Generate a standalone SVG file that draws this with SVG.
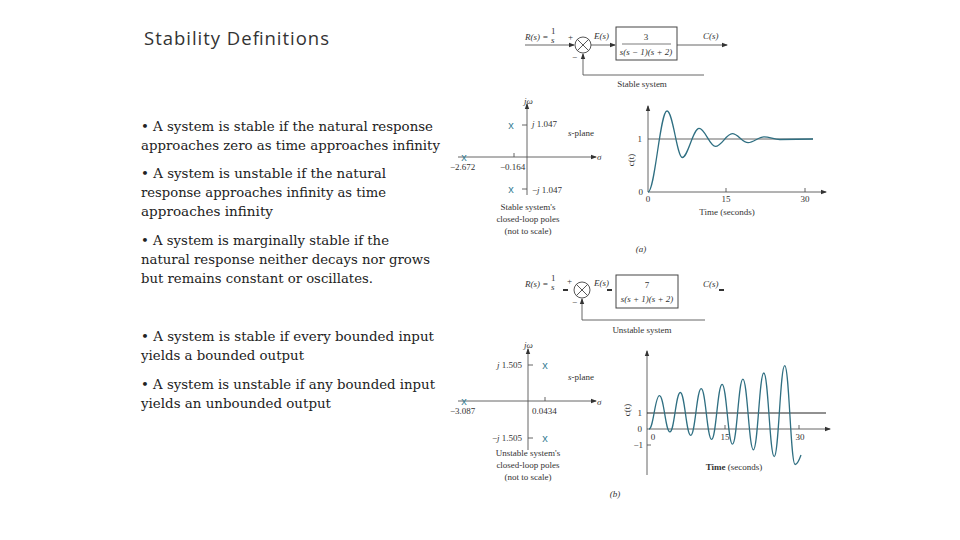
<svg xmlns="http://www.w3.org/2000/svg" width="960" height="540" viewBox="0 0 960 540">
<style>
.t{font-family:"DejaVu Serif",serif;font-size:12.8px;fill:#222}
.s{font-family:"Liberation Serif",serif;font-size:9px;fill:#333}
.i{font-style:italic}
.ax{stroke:#555;stroke-width:0.9;fill:none}
.cv{stroke:#2f6f82;stroke-width:1.3;fill:none}
.x{font-family:"Liberation Sans",sans-serif;font-size:11px;fill:#3a7f95}
</style>
<defs><marker id="ar" markerWidth="6" markerHeight="6" refX="5" refY="3" orient="auto" markerUnits="userSpaceOnUse"><path d="M0,0.8L6,3L0,5.2z" fill="#333"/></marker></defs>
<rect width="960" height="540" fill="#fff"/>
<text x="144" y="45" style="font-family:'Open Sans',sans-serif;font-size:18.5px;fill:#333" textLength="185">Stability Definitions</text>
<g id="text">
<text class="t" x="141" y="131" textLength="292" lengthAdjust="spacingAndGlyphs">• A system is stable if the natural response</text>
<text class="t" x="141" y="150" textLength="299" lengthAdjust="spacingAndGlyphs">approaches zero as time approaches infinity</text>
<text class="t" x="141" y="178" textLength="245" lengthAdjust="spacingAndGlyphs">• A system is unstable if the natural</text>
<text class="t" x="141" y="197" textLength="245" lengthAdjust="spacingAndGlyphs">response approaches infinity as time</text>
<text class="t" x="141" y="216" textLength="132" lengthAdjust="spacingAndGlyphs">approaches infinity</text>
<text class="t" x="141" y="245" textLength="248" lengthAdjust="spacingAndGlyphs">• A system is marginally stable if the</text>
<text class="t" x="141" y="264" textLength="289" lengthAdjust="spacingAndGlyphs">natural response neither decays nor grows</text>
<text class="t" x="141" y="283" textLength="232" lengthAdjust="spacingAndGlyphs">but remains constant or oscillates.</text>
<text class="t" x="141" y="341" textLength="293" lengthAdjust="spacingAndGlyphs">• A system is stable if every bounded input</text>
<text class="t" x="141" y="360" textLength="163" lengthAdjust="spacingAndGlyphs">yields a bounded output</text>
<text class="t" x="141" y="389" textLength="294" lengthAdjust="spacingAndGlyphs">• A system is unstable if any bounded input</text>
<text class="t" x="141" y="408" textLength="190" lengthAdjust="spacingAndGlyphs">yields an unbounded output</text>
</g>
<g id="connectors">
<line class="ax" x1="525" y1="45" x2="574" y2="45" marker-end="url(#ar)"/>
<line class="ax" x1="591" y1="45" x2="615" y2="45" marker-end="url(#ar)"/>
<line class="ax" x1="677" y1="45" x2="727" y2="45" marker-end="url(#ar)"/>
<polyline class="ax" points="704,75 583,75 583,54" marker-end="url(#ar)"/>
<path d="M563,290h5M607,290h5M719,290h5" stroke="#333" stroke-width="2"/>
<polyline class="ax" points="705,320 582,320 582,299" marker-end="url(#ar)"/>
</g>
<g id="blockA">
<circle cx="583" cy="45" r="8" fill="#fff" stroke="#444" stroke-width="0.9"/>
<path d="M577.3,39.3l11.4,11.4M588.7,39.3l-11.4,11.4" stroke="#444" stroke-width="0.9"/>
<rect x="616" y="27" width="61" height="33" fill="#fff" stroke="#444"/>
<line x1="622" y1="44" x2="671" y2="44" stroke="#444" stroke-width="0.7"/>
<text class="s" x="646" y="40" text-anchor="middle">3</text>
<text class="s i" x="646" y="55" text-anchor="middle">s(s − 1)(s + 2)</text>
<text class="s i" x="525" y="40">R(s) = </text><text class="s" x="551" y="34">1</text><text class="s i" x="551" y="43">s</text>
<text class="s" x="568" y="40">+</text><text class="s" x="572" y="60">−</text>
<text class="s i" x="594" y="39">E(s)</text><text class="s i" x="703" y="39">C(s)</text>
<text class="s" x="642" y="87" text-anchor="middle">Stable system</text>
</g>
<g id="splaneA">
<line class="ax" x1="527" y1="195" x2="527" y2="104" marker-end="url(#ar)"/>
<line class="ax" x1="458" y1="157" x2="596" y2="157" marker-end="url(#ar)"/>
<path d="M522,125h5M522,189h5M514,157v-4" class="ax"/>
<text class="x" x="511" y="129" text-anchor="middle">x</text><text class="x" x="511" y="193" text-anchor="middle">x</text><text class="x" x="464" y="161" text-anchor="middle">x</text>
<text class="s i" x="524" y="104">jω</text>
<text class="s" x="532" y="127"><tspan class="i">j</tspan> 1.047</text>
<text class="s" x="532" y="193">−<tspan class="i">j</tspan> 1.047</text>
<text class="s i" x="568" y="136">s<tspan font-style="normal">-plane</tspan></text>
<text class="s i" x="597" y="160">σ</text>
<text class="s" x="450" y="170">−2.672</text><text class="s" x="500" y="170">−0.164</text>
<text class="s" x="528" y="210" text-anchor="middle">Stable system's</text>
<text class="s" x="528" y="222" text-anchor="middle">closed-loop poles</text>
<text class="s" x="528" y="234" text-anchor="middle">(not to scale)</text>
</g>
<g id="plotA">
<line class="ax" x1="648" y1="192" x2="648" y2="106" marker-end="url(#ar)"/>
<line class="ax" x1="648" y1="192" x2="826" y2="192" marker-end="url(#ar)"/>
<line class="ax" x1="648" y1="139" x2="813" y2="139"/>
<path class="ax" d="M726,192v-4M805,192v-4"/>
<path class="cv" d="M648,192C655,192 660,111 667,111C673,111 677,157.5 682.3,157.5C688,157.5 693,128.4 699.1,128.4C705,128.4 709.6,146.4 715.5,146.4C721.5,146.4 726.3,133.7 732.3,133.7C738,133.7 742.4,142.7 748.1,142.7C753.8,142.7 758.3,136.9 764,136.9C769.7,136.9 774,139.5 779.8,139.5L813,139"/>
<text class="s" x="642" y="142" text-anchor="end">1</text><text class="s" x="643" y="195" text-anchor="end">0</text>
<text class="s" x="648" y="202" text-anchor="middle">0</text><text class="s" x="726" y="202" text-anchor="middle">15</text><text class="s" x="805" y="202" text-anchor="middle">30</text>
<text class="s" transform="translate(634,160) rotate(-90)" text-anchor="middle">c(t)</text>
<text class="s" x="727" y="215" text-anchor="middle">Time (seconds)</text>
<text class="s i" x="641" y="252" text-anchor="middle">(a)</text>
</g>
<g id="blockB">
<circle cx="582" cy="290" r="8" fill="#fff" stroke="#444" stroke-width="0.9"/>
<path d="M576.3,284.3l11.4,11.4M587.7,284.3l-11.4,11.4" stroke="#444" stroke-width="0.9"/>
<rect x="616" y="275" width="62" height="33" fill="#fff" stroke="#444"/>
<text class="s" x="647" y="288" text-anchor="middle">7</text>
<text class="s i" x="647" y="302" text-anchor="middle">s(s + 1)(s + 2)</text>
<text class="s i" x="525" y="287">R(s) = </text><text class="s" x="551" y="281">1</text><text class="s i" x="551" y="290">s</text>
<text class="s" x="567" y="284">+</text><text class="s" x="572" y="305">−</text>
<text class="s i" x="594" y="286">E(s)</text><text class="s i" x="703" y="287">C(s)</text>
<text class="s" x="642" y="333" text-anchor="middle">Unstable system</text>
</g>
<g id="splaneB">
<line class="ax" x1="528" y1="450" x2="528" y2="349" marker-end="url(#ar)"/>
<line class="ax" x1="458" y1="401" x2="596" y2="401" marker-end="url(#ar)"/>
<path class="ax" d="M528,365h5M528,438h5M545,401v-4"/>
<text class="x" x="545" y="369" text-anchor="middle">x</text><text class="x" x="545" y="442" text-anchor="middle">x</text><text class="x" x="464" y="405" text-anchor="middle">x</text>
<text class="s i" x="524" y="348">jω</text>
<text class="s" x="522" y="368" text-anchor="end"><tspan class="i">j</tspan> 1.505</text>
<text class="s" x="522" y="441" text-anchor="end">−<tspan class="i">j</tspan> 1.505</text>
<text class="s i" x="568" y="380">s<tspan font-style="normal">-plane</tspan></text>
<text class="s i" x="597" y="405">σ</text>
<text class="s" x="450" y="414">−3.087</text><text class="s" x="532" y="414">0.0434</text>
<text class="s" x="528" y="456" text-anchor="middle">Unstable system's</text>
<text class="s" x="528" y="468" text-anchor="middle">closed-loop poles</text>
<text class="s" x="528" y="480" text-anchor="middle">(not to scale)</text>
</g>
<g id="plotB">
<line class="ax" x1="647" y1="475" x2="647" y2="351" marker-end="url(#ar)"/>
<line class="ax" x1="647" y1="429" x2="830" y2="429" marker-end="url(#ar)"/>
<line x1="647" y1="413" x2="826" y2="413" stroke="#222" stroke-width="1"/>
<path class="ax" d="M725,429v-4M799,429v-4M647,445h4"/>
<path class="cv" d="M649,429C653.5,429 655,395.6 659.4,395.6C664,395.6 665.4,431.9 669.9,431.9C674.4,431.9 675.8,392.5 680.3,392.5C684.8,392.5 686.2,435.4 690.7,435.4C695.2,435.4 696.7,388.7 701.2,388.7C705.7,388.7 707.1,439.4 711.6,439.4C716.1,439.4 717.6,384.3 722.1,384.3C726.6,384.3 728,444.2 732.5,444.2C737,444.2 738.4,379.1 742.9,379.1C747.4,379.1 748.9,449.8 753.4,449.8C757.9,449.8 759.3,373 763.8,373C768.3,373 769.7,456.6 774.2,456.6C778.7,456.6 780.2,365.6 784.7,365.6C789.2,365.6 790.6,464.5 795.1,464.5C797.8,464.5 799.5,459 801,455"/>
<text class="s" x="642" y="416" text-anchor="end">1</text><text class="s" x="642" y="432" text-anchor="end">0</text><text class="s" x="643" y="448" text-anchor="end">−1</text>
<text class="s" x="653" y="440" text-anchor="middle">0</text><text class="s" x="725" y="440" text-anchor="middle">15</text><text class="s" x="800" y="440" text-anchor="middle">30</text>
<text class="s" transform="translate(630,410) rotate(-90)" text-anchor="middle">c(t)</text>
<text class="s" x="734" y="470" text-anchor="middle" font-weight="bold">Time <tspan font-weight="normal">(seconds)</tspan></text>
<text class="s i" x="615" y="497" text-anchor="middle">(b)</text>
</g>
</svg>
